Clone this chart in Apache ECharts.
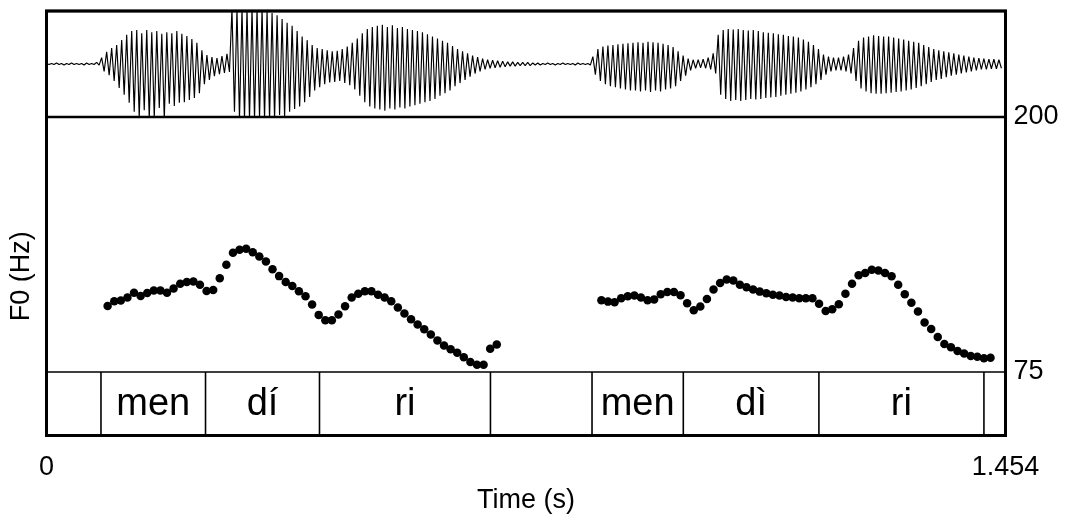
<!DOCTYPE html>
<html>
<head>
<meta charset="utf-8">
<script src="https://cdn.jsdelivr.net/npm/echarts@6/dist/echarts.min.js"></script>
<style>
  html, body { margin: 0; padding: 0; background: #fff; }
  #chart { width: 1068px; height: 515px; }
</style>
</head>
<body>
<div id="chart"></div>
<script>
// Length of the recording (s)
const timeMax = 1.454;

// Waveform: one positive and one negative peak per 7.6 ms cycle, in percent of full scale
const cycleLen = 0.0076;
const wavePos = [
  1, 1, 2, 1, 1, 2, 1, 1, 2, 1, 3,
  12, 23, 30, 36, 45, 55, 62, 64, 58, 64, 60, 62, 57, 60, 58, 62, 57, 53, 47, 40, 26, 17, 13, 11, 15, 19,
  104, 104, 104, 104, 104, 104, 104, 100, 96, 92, 85, 78, 72, 62, 52, 45, 36, 30, 28, 26, 24, 25, 28, 33, 40, 48,
  58, 66, 70, 72, 74, 70, 73, 68, 70, 66, 64, 62, 60, 56, 52, 48, 44, 40, 34, 28, 24, 20, 16, 13, 10, 8, 7, 6, 5, 4, 4, 3, 3, 3, 2, 2,
  1, 2, 1, 1, 2, 1, 1, 2, 1, 1,
  14, 28, 33, 35, 36, 37, 38, 39, 40, 41, 40, 42, 41, 40, 38, 36, 32, 24, 16, 10, 8, 8, 9, 12, 20,
  55, 64, 66, 65, 66, 64, 63, 64, 62, 60, 59, 58, 56, 55, 53, 52, 50, 46, 42, 36, 28, 18, 14, 12, 12, 14, 18,
  30, 44, 50, 52, 54, 53, 52, 52, 50, 48, 46, 44, 42, 40, 36, 32, 28, 26, 24, 22, 20, 18, 16, 14, 12, 11, 10, 9, 9, 8
];
const waveNeg = [
  -1, -1, -1, -2, -1, -1, -1, -2, -1, -1, -2,
  -14, -21, -32, -45, -58, -73, -90, -102, -87, -104, -102, -83, -104, -75, -79, -73, -72, -68, -64, -55, -38, -30, -23, -19, -17, -15,
  -90, -104, -104, -104, -104, -102, -104, -104, -104, -96, -100, -90, -85, -80, -72, -62, -50, -44, -38, -35, -34, -32, -36, -40, -48, -60,
  -72, -80, -84, -86, -88, -84, -86, -82, -84, -80, -78, -75, -72, -70, -66, -60, -55, -50, -42, -36, -30, -24, -18, -14, -10, -8, -7, -6, -5, -4, -4, -3, -3, -3, -2, -2,
  -1, -1, -2, -1, -1, -1, -2, -1, -1, -2,
  -20, -32, -38, -42, -44, -46, -48, -50, -50, -52, -50, -53, -50, -52, -48, -46, -42, -32, -22, -12, -8, -7, -8, -10, -18,
  -58, -66, -70, -68, -70, -68, -66, -67, -66, -64, -63, -62, -60, -58, -56, -54, -52, -48, -44, -38, -30, -20, -14, -12, -12, -14, -18,
  -32, -46, -52, -55, -56, -56, -55, -54, -53, -52, -50, -48, -45, -42, -38, -34, -30, -28, -25, -22, -20, -18, -16, -14, -12, -10, -10, -9, -9, -8
];

// Pitch track (Hz), 10 ms frames, two voiced stretches
const frameStep = 0.01;
const f0StartA = 0.0927;
const f0A = [
  107.4, 109.7, 110.0, 111.5, 113.9, 112.3, 113.7, 115.0, 115.0, 113.9,
  115.9, 118.3, 119.1, 119.4, 117.8, 114.7, 115.2, 121.0, 127.6, 133.4,
  134.9, 135.4, 133.7, 131.6, 129.2, 125.4, 122.0, 119.1, 117.1, 114.6,
  112.1, 108.1, 103.0, 100.4, 100.4, 103.2, 107.2, 111.5, 113.4, 114.6,
  114.6, 112.9, 111.5, 109.7, 106.6, 103.7, 100.9, 98.3, 96.0, 93.4,
  90.5, 88.0, 86.2, 84.4, 82.2, 79.9, 78.6, 78.6, 86.4, 88.5
];
const f0StartB = 0.8413;
const f0B = [
  110.2, 109.5, 109.2, 111.1, 112.1, 112.5, 111.5, 110.2, 110.6, 113.1,
  114.2, 114.2, 112.6, 108.7, 105.3, 107.1, 110.8, 115.4, 118.6, 120.4,
  119.9, 117.8, 116.5, 115.4, 114.4, 113.6, 112.9, 112.5, 111.8, 111.5,
  111.1, 111.1, 111.1, 108.5, 104.9, 105.8, 108.2, 113.4, 118.3, 122.4,
  123.5, 125.1, 124.8, 123.5, 121.9, 117.8, 113.1, 109.0, 104.6, 99.3,
  96.1, 92.1, 88.7, 87.1, 85.3, 84.1, 82.8, 82.5, 81.7, 82.0
];

// Syllable tier: interval boundaries (s) and labels
const tierBounds = [0, 0.0826, 0.2411, 0.4139, 0.6731, 0.8271, 0.9655, 1.1711, 1.4213, 1.454];
const tierLabels = ['', 'men', 'dí', 'ri', '', 'men', 'dì', 'ri', ''];

// Axis labels
const f0Range = [75, 200];
const timeTicks = [0, 1.454];

const FONT = '"Liberation Sans", Arial, Helvetica, sans-serif';

const waveData = [];
wavePos.forEach((v, i) => {
  waveData.push([i * cycleLen, v]);
  waveData.push([(i + 0.5) * cycleLen, waveNeg[i]]);
});
const f0Data = f0A.map((v, i) => [f0StartA + i * frameStep, v])
  .concat(f0B.map((v, i) => [f0StartB + i * frameStep, v]));

const L = 46.5, R = 62.5;
const hidden = { show: false };

const chart = echarts.init(document.getElementById('chart'), null, { renderer: 'canvas' });
chart.setOption({
  animation: false,
  backgroundColor: '#fff',
  grid: [
    { left: L, right: R, top: 11, height: 106, show: true, borderColor: '#000', borderWidth: 2.5, backgroundColor: 'transparent' },
    { left: L, right: R, top: 117, height: 255 },
    { left: L, right: R, top: 372, bottom: 79.5, show: true, borderColor: '#000', borderWidth: 1.5, backgroundColor: 'transparent' },
    { left: L, right: R, top: 11, bottom: 79.5, show: true, borderColor: '#000', borderWidth: 3, backgroundColor: 'transparent' },
    { left: L, right: R, top: 117, bottom: 79.5 }
  ],
  xAxis: [
    { gridIndex: 0, type: 'value', min: 0, max: timeMax, ...hidden },
    { gridIndex: 1, type: 'value', min: 0, max: timeMax, ...hidden },
    {
      gridIndex: 2, type: 'value', min: 0, max: timeMax, interval: timeMax,
      axisLine: { show: false }, axisTick: { show: false }, splitLine: { show: false },
      axisLabel: {
        color: '#000', fontSize: 27, fontFamily: FONT, margin: 19,
        showMinLabel: true, showMaxLabel: true,
        formatter: v => (timeTicks.some(t => Math.abs(t - v) < 1e-9) ? String(v) : '')
      },
      name: 'Time (s)', nameLocation: 'middle', nameGap: 52,
      nameTextStyle: { color: '#000', fontSize: 27, fontFamily: FONT }
    },
    { gridIndex: 3, type: 'value', min: 0, max: 1, ...hidden },
    { gridIndex: 4, type: 'value', min: 0, max: 1, ...hidden }
  ],
  yAxis: [
    { gridIndex: 0, type: 'value', min: -100, max: 100, ...hidden },
    {
      gridIndex: 1, type: 'value', min: f0Range[0], max: f0Range[1], interval: 25, position: 'right',
      axisLine: { show: false }, axisTick: { show: false }, splitLine: { show: false },
      axisLabel: {
        color: '#000', fontSize: 27, fontFamily: FONT, margin: 8,
        showMinLabel: true, showMaxLabel: true,
        formatter: v => (f0Range.includes(v) ? String(v) : '')
      }
    },
    { gridIndex: 2, type: 'value', min: 0, max: 1, ...hidden },
    { gridIndex: 3, type: 'value', min: 0, max: 1, ...hidden },
    {
      gridIndex: 4, type: 'value', min: 0, max: 1, position: 'left',
      axisLine: { show: false }, axisTick: { show: false }, splitLine: { show: false },
      axisLabel: { show: false },
      name: 'F0 (Hz)', nameLocation: 'middle', nameGap: 22,
      nameTextStyle: { color: '#000', fontSize: 27, fontFamily: FONT }
    }
  ],
  series: [
    {
      type: 'line', xAxisIndex: 0, yAxisIndex: 0, data: waveData,
      showSymbol: false, clip: true, silent: true,
      lineStyle: { color: '#000', width: 1.15 }
    },
    {
      type: 'scatter', xAxisIndex: 1, yAxisIndex: 1, data: f0Data,
      symbol: 'circle', symbolSize: 8.5, clip: false, silent: true,
      itemStyle: { color: '#000', opacity: 1 }
    },
    {
      type: 'custom', xAxisIndex: 2, yAxisIndex: 2, clip: false, silent: true,
      data: tierLabels.map((lab, i) => ({ value: [tierBounds[i], tierBounds[i + 1]], name: lab })),
      renderItem(params, api) {
        const a = api.coord([api.value(0), 0]);
        const b = api.coord([api.value(1), 1]);
        const label = tierLabels[params.dataIndex];
        const children = [];
        if (label) {
          children.push({
            type: 'text',
            style: {
              text: label, x: (a[0] + b[0]) / 2, y: (a[1] + b[1]) / 2 + 1,
              align: 'center', verticalAlign: 'middle',
              fontSize: 38, fontFamily: FONT, fill: '#000'
            }
          });
        }
        if (params.dataIndex < tierLabels.length - 1) {
          children.push({
            type: 'line',
            shape: { x1: b[0], y1: a[1], x2: b[0], y2: b[1] },
            style: { stroke: '#000', lineWidth: 1.6 }
          });
        }
        return { type: 'group', children };
      }
    }
  ]
});
</script>
</body>
</html>
